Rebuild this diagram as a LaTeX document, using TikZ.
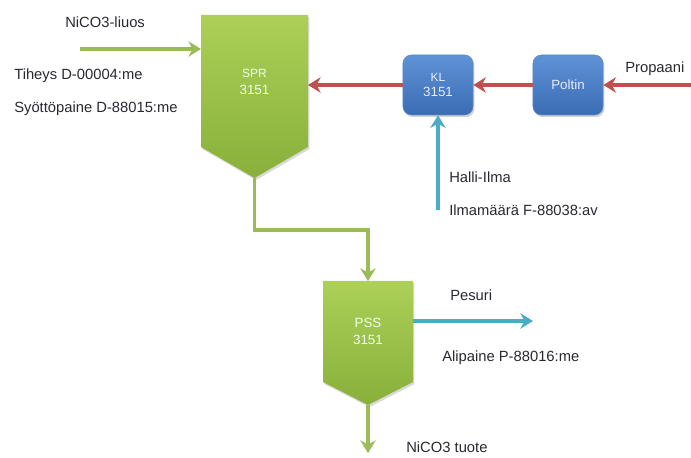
\documentclass[tikz,border=0pt]{standalone}
\usepackage{fontspec}
\setmainfont{Liberation Sans}
\usetikzlibrary{arrows.meta}
\usetikzlibrary{math, shadows}
\definecolor{mygreen}{RGB}{155,187,89}
\definecolor{mygreenL}{RGB}{172,208,88}
\definecolor{mygreenD}{RGB}{136,176,58}
\definecolor{myred}{RGB}{192,80,77}
\definecolor{myblueL}{RGB}{95,146,214}
\definecolor{myblueD}{RGB}{58,108,180}
\definecolor{myaqua}{RGB}{75,172,198}
\definecolor{mytext}{RGB}{40,40,50}
\tikzset{
  flowtip/.style={-{Stealth[length=9pt,width=11pt,inset=3pt]}},
  greenflow/.style={flowtip, draw=mygreen, line width=2.6pt},
  redflow/.style={flowtip, draw=myred, line width=2.3pt},
  aquaflow/.style={flowtip, draw=myaqua, line width=2.6pt},
  bluebox/.style={rectangle, rounded corners=6pt, minimum width=1.75cm, minimum height=1.5cm,
    top color=myblueL, bottom color=myblueD, draw=myblueD!80, align=center,
    text=blue!8!white, font=\fontsize{9.5}{11}\selectfont,
    drop shadow={opacity=0.35, shadow xshift=1pt, shadow yshift=-1.5pt}},
  boxtext/.style={align=center, font=\fontsize{9.5}{12}\selectfont},
  lbl/.style={anchor=west, text=mytext, font=\fontsize{10.5}{12}\selectfont, inner sep=0pt}
}

\begin{document}
\begin{tikzpicture}[x=0.025cm, y=0.025cm]
\tikzmath{
\Hgt=458;
\yred=373;
}
\useasboundingbox (0,0) rectangle (691,\Hgt);

%coordinates of SPR vessel
\coordinate (S1) at (201,443);
\coordinate (S2) at (308,443);
\coordinate (S3) at (308,311);
\coordinate (sprtip) at (254.5,280);
\coordinate (S5) at (201,311);

%coordinates of PSS vessel
\coordinate (P1) at (323,177);
\coordinate (P2) at (413,177);
\coordinate (P3) at (413,76);
\coordinate (psstip) at (368,53);
\coordinate (P5) at (323,76);

%vessels
\shade[top color=mygreenL, bottom color=mygreenD, drop shadow={opacity=0.3, shadow xshift=1pt, shadow yshift=-1.5pt}]
  (S1) -- (S2) -- (S3) -- (sprtip) -- (S5) -- cycle;
\node[boxtext, text=green!6!white] (spr) at (254.5,376) {{\fontsize{8.5}{10}\selectfont SPR}\\3151};
\shade[top color=mygreenL, bottom color=mygreenD, drop shadow={opacity=0.3, shadow xshift=1pt, shadow yshift=-1.5pt}]
  (P1) -- (P2) -- (P3) -- (psstip) -- (P5) -- cycle;
\node[boxtext, text=green!6!white] (pss) at (368,127) {PSS\\3151};

%burner line
\node[bluebox] (kl) at (438,\yred) {{\fontsize{8.5}{10}\selectfont KL}\\3151};
\node[bluebox] (poltin) at (568,\yred) {Poltin};

\coordinate (propin) at (691,\yred);
\coordinate (sprin) at (308,\yred);
\draw[redflow] (propin) -- (poltin.east);
\draw[redflow] (poltin.west) -- (kl.east);
\draw[redflow] (kl.west) -- (sprin);

%air to KL
\coordinate (airin) at (438,248);
\draw[aquaflow] (airin) -- (kl.south);

%feed and product
\coordinate (feedin) at (80,409);
\coordinate (feedout) at (201,409);
\draw[greenflow] (feedin) -- (feedout);
\coordinate (psstop) at (368,177);
\draw[greenflow] (sprtip) -- (254.5,228) -- (368,228) -- (psstop);
\coordinate (prodout) at (368,5);
\draw[greenflow] (psstip) -- (prodout);

%to scrubber
\coordinate (pssout) at (413,137);
\coordinate (pesout) at (533,137);
\draw[aquaflow] (pssout) -- (pesout);

%labels
\node[lbl] (lfeed) at (65,436) {NiCO3-liuos};
\node[lbl] (ltih) at (14,382) {Tiheys D-00004:me};
\node[lbl] (lsyo) at (14,349) {Syöttöpaine D-88015:me};
\node[lbl] (lprop) at (625,389) {Propaani};
\node[lbl] (lhalli) at (449,281) {Halli-Ilma};
\node[lbl] (lilma) at (449,248) {Ilmamäärä F-88038:av};
\node[lbl] (lpes) at (450,163) {Pesuri};
\node[lbl] (lali) at (442,100) {Alipaine P-88016:me};
\node[lbl] (ltuote) at (406,11) {NiCO3 tuote};
\end{tikzpicture}
\end{document}
